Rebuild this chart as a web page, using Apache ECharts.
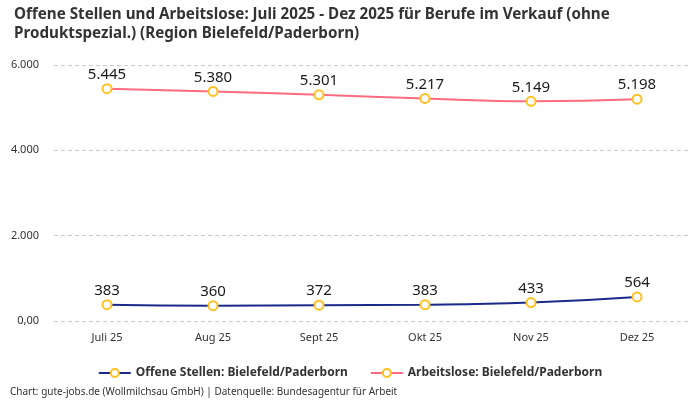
<!DOCTYPE html>
<html><head><meta charset="utf-8">
<script src="https://cdn.jsdelivr.net/npm/echarts@6/dist/echarts.min.js"></script>
<style>html,body{margin:0;padding:0;background:#fff}#c{width:700px;height:400px}</style>
</head><body><div id="c"></div>
<script>
const categories = ['Juli 25','Aug 25','Sept 25','Okt 25','Nov 25','Dez 25'];
const offeneStellen = [383, 360, 372, 383, 433, 564];
const arbeitslose = [5445, 5380, 5301, 5217, 5149, 5198];
const yTicks = [0, 2000, 4000, 6000];
const seriesNames = ['Offene Stellen: Bielefeld/Paderborn', 'Arbeitslose: Bielefeld/Paderborn'];

const FONT = 'Noto Sans';
const fmt = v => v.toLocaleString('de-DE');
const chart = echarts.init(document.getElementById('c'));
function mk(name, data, color) {
  return {
    name, type: 'line', data, smooth: true,
    symbol: 'circle', symbolSize: 9,
    lineStyle: {color, width: 2},
    itemStyle: {color: '#fff', borderColor: '#FFC020', borderWidth: 2},
    label: {show: true, position: 'top', distance: 1, color: '#1a1a1a', fontSize: 15, fontFamily: FONT,
      formatter: p => fmt(p.value)},
    emphasis: {disabled: true}
  };
}
chart.setOption({
  animation: false,
  textStyle: {fontFamily: FONT},
  title: {
    text: 'Offene Stellen und Arbeitslose: Juli 2025 - Dez 2025 für Berufe im Verkauf (ohne\nProduktspezial.) (Region Bielefeld/Paderborn)',
    left: 9, top: 0,
    textStyle: {fontSize: 15.2, fontWeight: 'bold', color: '#333', fontFamily: FONT, lineHeight: 19}
  },
  legend: {
    bottom: 16, left: 'center', itemWidth: 32, itemHeight: 10, itemGap: 22,
    textStyle: {fontSize: 12, fontWeight: 'bold', color: '#333', fontFamily: FONT},
    data: seriesNames
  },
  graphic: [{type: 'text', left: 10, top: 387,
    style: {text: 'Chart: gute-jobs.de (Wollmilchsau GmbH) | Datenquelle: Bundesagentur für Arbeit', fontSize: 10, fill: '#333', fontFamily: FONT}}],
  grid: {left: 54, right: 10, top: 65, bottom: 79, containLabel: false},
  xAxis: {
    type: 'category', data: categories, boundaryGap: true,
    axisLine: {show: false}, axisTick: {show: false},
    axisLabel: {color: '#333', fontSize: 11, margin: 11, fontFamily: FONT}
  },
  yAxis: {
    type: 'value', min: yTicks[0], max: yTicks[yTicks.length-1], interval: 2000,
    axisLabel: {color: '#333', fontSize: 11, margin: 15, fontFamily: FONT,
      formatter: v => v === 0 ? '0,00' : fmt(v)},
    splitLine: {lineStyle: {type: [4, 3], color: '#ccc'}}
  },
  series: [mk(seriesNames[0], offeneStellen, '#1a2a8a'), mk(seriesNames[1], arbeitslose, '#ff6b7f')]
});
</script></body></html>
